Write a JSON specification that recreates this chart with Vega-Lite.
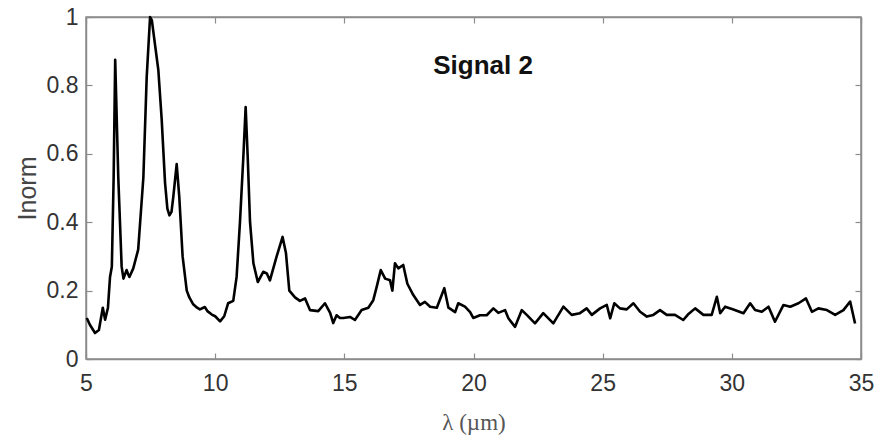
{
  "$schema": "https://vega.github.io/schema/vega-lite/v6.json",
  "width": 775,
  "height": 342,
  "autosize": {"type": "none"},
  "padding": {"left": 86, "top": 17, "right": 24, "bottom": 85},
  "background": "white",
  "config": {
    "view": {"stroke": "#8c8c8c", "strokeWidth": 1.5},
    "axis": {
      "grid": false,
      "domainColor": "#8c8c8c",
      "domainWidth": 1.5,
      "tickColor": "#8c8c8c",
      "tickWidth": 1.2,
      "labelFont": "Liberation Sans, Arial",
      "labelFontSize": 23,
      "labelColor": "#333333",
      "titleFont": "Liberation Serif, DejaVu Serif",
      "titleFontWeight": "normal",
      "titleColor": "#555555"
    }
  },
  "datasets": {
    "signal": [
      {"x": 5.03, "y": 0.12}, {"x": 5.15, "y": 0.1}, {"x": 5.35, "y": 0.076}, {"x": 5.5, "y": 0.085},
      {"x": 5.65, "y": 0.15}, {"x": 5.74, "y": 0.115}, {"x": 5.85, "y": 0.15}, {"x": 5.93, "y": 0.24},
      {"x": 6.0, "y": 0.27}, {"x": 6.07, "y": 0.53}, {"x": 6.13, "y": 0.875}, {"x": 6.25, "y": 0.53},
      {"x": 6.38, "y": 0.27}, {"x": 6.45, "y": 0.235}, {"x": 6.57, "y": 0.26}, {"x": 6.62, "y": 0.25},
      {"x": 6.68, "y": 0.24}, {"x": 6.83, "y": 0.265}, {"x": 7.02, "y": 0.32}, {"x": 7.22, "y": 0.53},
      {"x": 7.35, "y": 0.825}, {"x": 7.48, "y": 1.0}, {"x": 7.55, "y": 0.99}, {"x": 7.67, "y": 0.92},
      {"x": 7.8, "y": 0.845}, {"x": 7.93, "y": 0.7}, {"x": 8.06, "y": 0.515}, {"x": 8.15, "y": 0.44},
      {"x": 8.23, "y": 0.42}, {"x": 8.31, "y": 0.43}, {"x": 8.38, "y": 0.475}, {"x": 8.51, "y": 0.57},
      {"x": 8.61, "y": 0.475}, {"x": 8.74, "y": 0.3}, {"x": 8.9, "y": 0.2}, {"x": 9.0, "y": 0.18},
      {"x": 9.15, "y": 0.16}, {"x": 9.3, "y": 0.15}, {"x": 9.41, "y": 0.145}, {"x": 9.6, "y": 0.152},
      {"x": 9.7, "y": 0.14}, {"x": 9.87, "y": 0.13}, {"x": 10.0, "y": 0.125}, {"x": 10.19, "y": 0.11},
      {"x": 10.35, "y": 0.125}, {"x": 10.5, "y": 0.163}, {"x": 10.7, "y": 0.17}, {"x": 10.83, "y": 0.24},
      {"x": 10.96, "y": 0.4}, {"x": 11.09, "y": 0.59}, {"x": 11.18, "y": 0.737}, {"x": 11.26, "y": 0.59},
      {"x": 11.35, "y": 0.4}, {"x": 11.48, "y": 0.28}, {"x": 11.65, "y": 0.225}, {"x": 11.86, "y": 0.255},
      {"x": 12.0, "y": 0.25}, {"x": 12.12, "y": 0.23}, {"x": 12.38, "y": 0.3}, {"x": 12.61, "y": 0.357},
      {"x": 12.74, "y": 0.31}, {"x": 12.87, "y": 0.2}, {"x": 13.09, "y": 0.18}, {"x": 13.28, "y": 0.17},
      {"x": 13.48, "y": 0.177}, {"x": 13.67, "y": 0.143}, {"x": 13.99, "y": 0.14}, {"x": 14.25, "y": 0.163},
      {"x": 14.45, "y": 0.135}, {"x": 14.57, "y": 0.105}, {"x": 14.7, "y": 0.128}, {"x": 14.83, "y": 0.12},
      {"x": 14.96, "y": 0.12}, {"x": 15.22, "y": 0.123}, {"x": 15.41, "y": 0.114}, {"x": 15.67, "y": 0.143},
      {"x": 15.93, "y": 0.15}, {"x": 16.12, "y": 0.172}, {"x": 16.25, "y": 0.21}, {"x": 16.41, "y": 0.26},
      {"x": 16.58, "y": 0.235}, {"x": 16.77, "y": 0.23}, {"x": 16.86, "y": 0.2}, {"x": 16.96, "y": 0.28},
      {"x": 17.09, "y": 0.265}, {"x": 17.28, "y": 0.275}, {"x": 17.44, "y": 0.22}, {"x": 17.67, "y": 0.187},
      {"x": 17.93, "y": 0.158}, {"x": 18.12, "y": 0.167}, {"x": 18.32, "y": 0.153}, {"x": 18.58, "y": 0.15},
      {"x": 18.87, "y": 0.207}, {"x": 19.03, "y": 0.15}, {"x": 19.29, "y": 0.137}, {"x": 19.41, "y": 0.163},
      {"x": 19.67, "y": 0.153}, {"x": 19.87, "y": 0.137}, {"x": 19.99, "y": 0.12}, {"x": 20.25, "y": 0.128},
      {"x": 20.51, "y": 0.128}, {"x": 20.77, "y": 0.148}, {"x": 20.96, "y": 0.135}, {"x": 21.22, "y": 0.143},
      {"x": 21.35, "y": 0.119}, {"x": 21.61, "y": 0.094}, {"x": 21.87, "y": 0.143}, {"x": 22.06, "y": 0.129},
      {"x": 22.38, "y": 0.104}, {"x": 22.7, "y": 0.134}, {"x": 23.09, "y": 0.104}, {"x": 23.48, "y": 0.153},
      {"x": 23.8, "y": 0.129}, {"x": 24.12, "y": 0.134}, {"x": 24.38, "y": 0.148}, {"x": 24.58, "y": 0.129},
      {"x": 24.9, "y": 0.148}, {"x": 25.16, "y": 0.158}, {"x": 25.29, "y": 0.119}, {"x": 25.45, "y": 0.163},
      {"x": 25.67, "y": 0.148}, {"x": 25.93, "y": 0.145}, {"x": 26.19, "y": 0.163}, {"x": 26.45, "y": 0.138},
      {"x": 26.71, "y": 0.124}, {"x": 26.96, "y": 0.129}, {"x": 27.22, "y": 0.143}, {"x": 27.48, "y": 0.129},
      {"x": 27.8, "y": 0.129}, {"x": 28.12, "y": 0.114}, {"x": 28.3, "y": 0.13}, {"x": 28.58, "y": 0.148},
      {"x": 28.9, "y": 0.129}, {"x": 29.22, "y": 0.129}, {"x": 29.42, "y": 0.182}, {"x": 29.55, "y": 0.134},
      {"x": 29.74, "y": 0.153}, {"x": 30.06, "y": 0.145}, {"x": 30.45, "y": 0.134}, {"x": 30.71, "y": 0.163},
      {"x": 30.9, "y": 0.143}, {"x": 31.16, "y": 0.138}, {"x": 31.42, "y": 0.153}, {"x": 31.67, "y": 0.109},
      {"x": 32.0, "y": 0.158}, {"x": 32.26, "y": 0.153}, {"x": 32.58, "y": 0.163}, {"x": 32.87, "y": 0.177},
      {"x": 33.1, "y": 0.138}, {"x": 33.35, "y": 0.148}, {"x": 33.68, "y": 0.143}, {"x": 34.0, "y": 0.129},
      {"x": 34.32, "y": 0.143}, {"x": 34.58, "y": 0.168}, {"x": 34.77, "y": 0.104}
    ],
    "label": [{"x": 20.37, "y": 0.856, "text": "Signal 2"}]
  },
  "resolve": {"axis": {"x": "independent", "y": "independent"}},
  "layer": [
    {
      "data": {"name": "signal"},
      "mark": {"type": "line", "color": "black", "strokeWidth": 2.6, "strokeJoin": "round"},
      "encoding": {
        "x": {
          "field": "x", "type": "quantitative",
          "scale": {"domain": [5, 35], "nice": false, "zero": false},
          "axis": {
            "orient": "bottom", "values": [5, 10, 15, 20, 25, 30, 35],
            "tickSize": -6, "labelPadding": 19, "labelFlush": false,
            "title": "λ (µm)", "titleFontSize": 23, "titleY": 63, "titleBaseline": "middle"
          }
        },
        "y": {
          "field": "y", "type": "quantitative",
          "scale": {"domain": [0, 1], "nice": false},
          "axis": {
            "orient": "left", "values": [0, 0.2, 0.4, 0.6, 0.8, 1], "format": "~g",
            "tickSize": -6, "labelPadding": 14, "labelFlush": false,
            "title": "Inorm", "titleFont": "Liberation Sans, Arial", "titleFontSize": 25,
            "titleColor": "#444444", "titleX": -59, "titleY": 171, "titleBaseline": "middle"
          }
        }
      }
    },
    {
      "data": {"name": "label"},
      "mark": {"type": "text", "font": "Liberation Sans, Arial", "fontWeight": "bold", "fontSize": 26, "color": "#111111", "baseline": "middle", "align": "center"},
      "encoding": {
        "x": {
          "field": "x", "type": "quantitative",
          "axis": {"orient": "top", "values": [5, 10, 15, 20, 25, 30, 35], "tickSize": -6, "labels": false, "title": null}
        },
        "y": {
          "field": "y", "type": "quantitative",
          "axis": {"orient": "right", "values": [0, 0.2, 0.4, 0.6, 0.8, 1], "tickSize": -6, "labels": false, "title": null}
        },
        "text": {"field": "text"}
      }
    }
  ]
}
